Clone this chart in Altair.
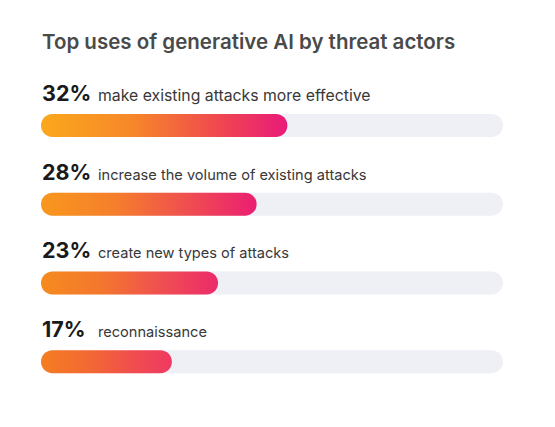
import altair as alt
import pandas as pd

title_text = "Top uses of generative AI by threat actors"
labels = [
    "make existing attacks more effective",
    "increase the volume of existing attacks",
    "create new types of attacks",
    "reconnaissance",
]
values = [32, 28, 23, 17]
scale_max = 60

df = pd.DataFrame({"label": labels, "value": values})
df["pct"] = df["value"].astype(str) + "%"

# style per row: gradient stops and description font size
grad_colors = [
    [("#fba81c", 0), ("#f6862a", 0.38), ("#f0484f", 0.72), ("#e91a7a", 1)],
    [("#f8971d", 0), ("#f57e2c", 0.35), ("#ef4854", 0.72), ("#eb1e72", 1)],
    [("#f68b1f", 0), ("#f4762e", 0.35), ("#ef4a55", 0.72), ("#ec2a6a", 1)],
    [("#f47d21", 0), ("#f36a32", 0.35), ("#f04c4f", 0.72), ("#ef3962", 1)],
]
desc_sizes = [15.8, 14.6, 14.6, 14.6]

FONT = "Inter"
xscale = alt.Scale(domain=[0, scale_max], nice=False)
yscale = alt.Scale(domain=labels, paddingInner=0, paddingOuter=0)
Y = alt.Y("label:N", scale=yscale, axis=None, sort=labels)

base = alt.Chart(df)

track = base.transform_calculate(full=str(scale_max)).mark_bar(
    color="#eef0f6", cornerRadius=11.5, size=23
).encode(
    x=alt.X("full:Q", scale=xscale, axis=None),
    x2=alt.datum(0),
    y=Y,
)

layers = [track]
for lab, stops, fs in zip(labels, grad_colors, desc_sizes):
    g = alt.Gradient(
        gradient="linear",
        stops=[alt.GradientStop(color=c, offset=o) for c, o in stops],
        x1=0, x2=1, y1=0, y2=0,
    )
    sub = base.transform_filter(alt.datum.label == lab)
    layers.append(
        sub.mark_bar(color=g, cornerRadius=11.5, size=23).encode(
            x=alt.X("value:Q", scale=xscale, axis=None),
            x2=alt.datum(0),
            y=Y,
        )
    )
    layers.append(
        sub.mark_text(
            align="left", baseline="alphabetic", dy=-24.5, font=FONT, fontSize=fs,
            fontWeight=400, color="#383838"
        ).encode(x=alt.value(57), y=Y, text="label:N")
    )

pct_text = base.mark_text(
    align="left", baseline="alphabetic", dy=-24.5, font=FONT, fontSize=21.5,
    fontWeight=700, color="#1a1a1a"
).encode(x=alt.value(1), y=Y, text="pct:N")
layers.append(pct_text)

title = alt.Chart(pd.DataFrame({"t": [title_text]})).mark_text(
    align="left", baseline="alphabetic", font=FONT, fontSize=20.5,
    fontWeight=600, color="#4a4a4a"
).encode(x=alt.value(1), y=alt.value(-37.5), text="t:N")
layers.append(title)

chart = alt.layer(*layers).properties(
    width=462, height=315,
    padding={"left": 33, "top": 78, "right": 44, "bottom": 18},
    autosize=alt.AutoSizeParams(type="none"),
    background="white",
).configure_view(stroke=None)

chart.save("out.html", embed_options={"renderer": "svg", "actions": False})
